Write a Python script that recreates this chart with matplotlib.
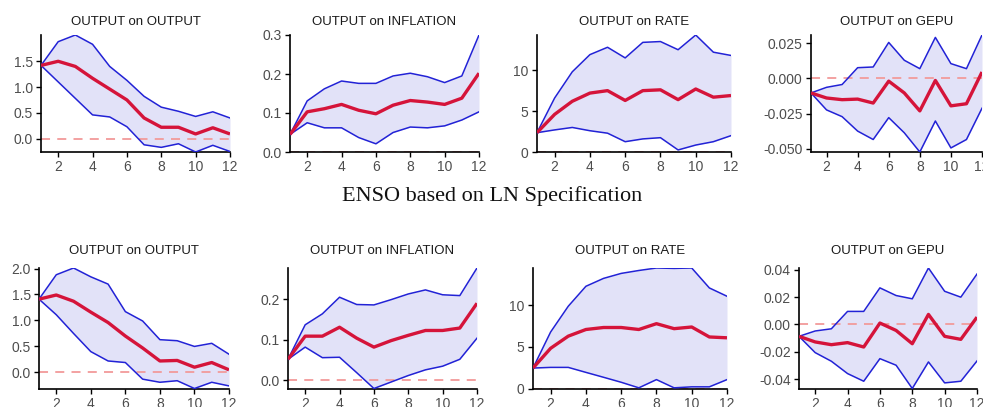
import matplotlib
matplotlib.use("Agg")
import matplotlib.pyplot as plt
import numpy as np

plt.rcParams['font.family'] = ['Liberation Sans', 'DejaVu Sans']

horizons = list(range(1, 13))
titles = ["OUTPUT on OUTPUT", "OUTPUT on INFLATION", "OUTPUT on RATE", "OUTPUT on GEPU"]
middle_label = "ENSO based on LN Specification"

# ---- top row ----
top_out_mid = [1.42, 1.50, 1.40, 1.17, 0.96, 0.75, 0.40, 0.22, 0.22, 0.09, 0.21, 0.09]
top_out_up = [1.42, 1.88, 2.01, 1.83, 1.40, 1.13, 0.82, 0.61, 0.53, 0.43, 0.52, 0.40]
top_out_lo = [1.42, 1.10, 0.78, 0.46, 0.42, 0.23, -0.12, -0.17, -0.10, -0.26, -0.13, -0.25]

top_inf_mid = [0.045, 0.103, 0.111, 0.122, 0.107, 0.098, 0.120, 0.132, 0.128, 0.122, 0.138, 0.202]
top_inf_up = [0.045, 0.131, 0.162, 0.182, 0.176, 0.176, 0.195, 0.202, 0.193, 0.178, 0.195, 0.300]
top_inf_lo = [0.045, 0.075, 0.062, 0.062, 0.037, 0.021, 0.050, 0.064, 0.062, 0.067, 0.082, 0.103]

top_rate_mid = [2.36, 4.6, 6.2, 7.2, 7.5, 6.3, 7.5, 7.6, 6.4, 7.7, 6.7, 6.9]
top_rate_up = [2.36, 6.6, 9.8, 11.9, 12.8, 11.5, 13.4, 13.5, 12.5, 14.3, 12.2, 11.8]
top_rate_lo = [2.36, 2.7, 3.0, 2.6, 2.3, 1.26, 1.6, 1.75, 0.25, 0.85, 1.26, 2.0]

top_gepu_mid = [-0.0103, -0.0139, -0.0151, -0.0147, -0.0175, -0.0019, -0.0103, -0.0231, -0.0014, -0.0195, -0.0180, 0.0046]
top_gepu_up = [-0.0103, -0.0063, -0.0043, 0.0077, 0.0082, 0.0257, 0.0130, 0.0070, 0.0293, 0.0106, 0.0070, 0.0310]
top_gepu_lo = [-0.0103, -0.0224, -0.0272, -0.0375, -0.0435, -0.0279, -0.0387, -0.0524, -0.0303, -0.0495, -0.0435, -0.0212]

# ---- bottom row ----
bot_out_mid = [1.41, 1.49, 1.37, 1.16, 0.96, 0.70, 0.47, 0.22, 0.23, 0.10, 0.19, 0.05]
bot_out_up = [1.41, 1.88, 2.01, 1.84, 1.70, 1.17, 0.99, 0.63, 0.61, 0.50, 0.56, 0.35]
bot_out_lo = [1.41, 1.11, 0.75, 0.40, 0.22, 0.19, -0.13, -0.19, -0.16, -0.31, -0.19, -0.26]

bot_inf_mid = [0.052, 0.109, 0.109, 0.131, 0.104, 0.082, 0.098, 0.111, 0.123, 0.123, 0.129, 0.190]
bot_inf_up = [0.052, 0.137, 0.164, 0.205, 0.187, 0.186, 0.199, 0.213, 0.223, 0.211, 0.209, 0.277]
bot_inf_lo = [0.052, 0.082, 0.056, 0.057, 0.019, -0.020, -0.004, 0.012, 0.026, 0.035, 0.052, 0.104]

bot_rate_mid = [2.46, 4.84, 6.3, 7.1, 7.34, 7.34, 7.1, 7.8, 7.2, 7.4, 6.2, 6.1]
bot_rate_up = [2.46, 6.8, 9.9, 12.3, 13.25, 13.85, 14.2, 14.5, 14.45, 14.5, 12.1, 11.1]
bot_rate_lo = [2.46, 2.54, 2.54, 1.94, 1.35, 0.75, 0.08, 1.07, 0.08, 0.2, 0.2, 1.07]

bot_gepu_mid = [-0.0087, -0.0128, -0.0148, -0.0133, -0.0165, 0.0010, -0.0044, -0.0141, 0.0073, -0.0087, -0.0109, 0.0053]
bot_gepu_up = [-0.0087, -0.0048, -0.0032, 0.0095, 0.0095, 0.0267, 0.0211, 0.0187, 0.0412, 0.0242, 0.0199, 0.0368]
bot_gepu_lo = [-0.0087, -0.0206, -0.0269, -0.0359, -0.0415, -0.0250, -0.0298, -0.0468, -0.0274, -0.0427, -0.0415, -0.0267]

top_row = [(top_out_mid, top_out_up, top_out_lo),
           (top_inf_mid, top_inf_up, top_inf_lo),
           (top_rate_mid, top_rate_up, top_rate_lo),
           (top_gepu_mid, top_gepu_up, top_gepu_lo)]
bot_row = [(bot_out_mid, bot_out_up, bot_out_lo),
           (bot_inf_mid, bot_inf_up, bot_inf_lo),
           (bot_rate_mid, bot_rate_up, bot_rate_lo),
           (bot_gepu_mid, bot_gepu_up, bot_gepu_lo)]

top_yticks = [[0.0, 0.5, 1.0, 1.5], [0.0, 0.1, 0.2, 0.3], [0, 5, 10], [-0.05, -0.025, 0.0, 0.025]]
top_yfmt = ["{:.1f}", "{:.1f}", "{:.0f}", "{:.3f}"]
bot_yticks = [[0.0, 0.5, 1.0, 1.5, 2.0], [0.0, 0.1, 0.2], [0, 5, 10], [-0.04, -0.02, 0.0, 0.02, 0.04]]
bot_yfmt = ["{:.1f}", "{:.1f}", "{:.0f}", "{:.2f}"]

W, H = 983, 407
fig = plt.figure(figsize=(W / 100, H / 100), dpi=100)

top_x = [(41, 230), (290, 479), (537, 731), (811, 982)]
bot_x = [(39, 229), (288, 477), (533, 727), (799, 977)]
top_y = (35, 152)
bot_y = (268, 388.5)

RED = "#d5143a"
BLUE = "#2222d6"
FILL = "#e2e2f8"
ZERO = "#f29a9a"
TICKC = "#4d4d4d"


def draw(ax, mid, up, lo, yticks, yfmt, title, pad):
    ax.fill_between(horizons, lo, up, color=FILL, lw=0, zorder=1)
    ax.axhline(0, color=ZERO, lw=1.3, ls=(0, (5, 4)), zorder=2)
    ax.plot(horizons, up, color=BLUE, lw=1.1, zorder=3)
    ax.plot(horizons, lo, color=BLUE, lw=1.1, zorder=3)
    ax.plot(horizons, mid, color=RED, lw=2.4, zorder=4, solid_capstyle='butt')
    ymin = min(min(lo), 0)
    ymax = max(max(up), 0)
    ax.set_xlim(1, 12)
    ax.set_ylim(ymin, ymax)
    ax.set_xticks([2, 4, 6, 8, 10, 12])
    ax.set_yticks(yticks)
    ax.set_yticklabels([yfmt.format(v).replace("-0.000", "0.000") for v in yticks])
    for s in ["top", "right"]:
        ax.spines[s].set_visible(False)
    for s in ["left", "bottom"]:
        ax.spines[s].set_linewidth(1.2)
        ax.spines[s].set_color("black")
    ax.tick_params(direction="out", length=3.5, width=1.0, color="black",
                   labelcolor=TICKC, labelsize=10, pad=2.5)
    ax.set_title(title, fontsize=9.5, color="#1a1a1a", pad=pad)


for i in range(4):
    x0, x1 = top_x[i]
    ax = fig.add_axes([x0 / W, (H - top_y[1]) / H, (x1 - x0) / W, (top_y[1] - top_y[0]) / H])
    m, u, l = top_row[i]
    draw(ax, m, u, l, top_yticks[i], top_yfmt[i], titles[i], 7)

    x0, x1 = bot_x[i]
    ax = fig.add_axes([x0 / W, (H - bot_y[1]) / H, (x1 - x0) / W, (bot_y[1] - bot_y[0]) / H])
    m, u, l = bot_row[i]
    draw(ax, m, u, l, bot_yticks[i], bot_yfmt[i], titles[i], 10)

fig.text(492 / W, 1 - 196 / H, middle_label, ha="center", va="center",
         fontsize=16, family=["Liberation Serif", "DejaVu Serif"], color="#111111")

fig.savefig("out.png", dpi=100)
